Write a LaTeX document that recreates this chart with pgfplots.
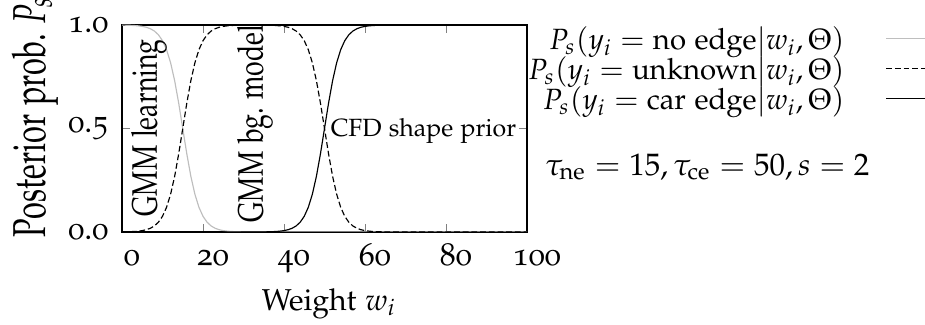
\documentclass[border=0pt]{standalone}
\usepackage[T1]{fontenc}
\usepackage[osf]{mathpazo}
\usepackage{amsmath}
\usepackage{pgfplots}
\usepackage{pgfplotstable}
\pgfplotsset{compat=1.18}

% Posterior probabilities of the three edge classes over the weight w_i
% (tau_ne = 15, tau_ce = 50, s = 2)
\pgfplotstableread{
w   ne       unk      ce
0   0.99945  0.00055  0
1   0.99909  0.00091  0
2   0.99850  0.00150  0
3   0.99753  0.00247  0
4   0.99593  0.00407  0
5   0.99331  0.00669  0
6   0.98901  0.01099  0
7   0.98201  0.01799  0
8   0.97069  0.02931  0
9   0.95257  0.04743  0
10  0.92414  0.07586  0
11  0.88080  0.11920  0
12  0.81757  0.18243  0
13  0.73106  0.26894  0
14  0.62246  0.37754  0
15  0.50000  0.50000  0
16  0.37754  0.62246  0
17  0.26894  0.73106  0
18  0.18243  0.81757  0
19  0.11920  0.88080  0
20  0.07586  0.92414  0
21  0.04743  0.95257  0
22  0.02931  0.97069  0
23  0.01799  0.98201  0
24  0.01099  0.98901  0
25  0.00669  0.99331  0
26  0.00407  0.99593  0
27  0.00247  0.99753  0
28  0.00150  0.99850  0
29  0.00091  0.99909  0
30  0.00055  0.99945  0
31  0.00034  0.99966  0
32  0.00020  0.99980  0
33  0.00012  0.99988  0
34  0.00007  0.99993  0
35  0.00005  0.99940  0.00055
36  0.00003  0.99906  0.00091
37  0.00002  0.99848  0.00150
38  0.00001  0.99752  0.00247
39  0        0.99593  0.00407
40  0        0.99331  0.00669
41  0        0.98901  0.01099
42  0        0.98201  0.01799
43  0        0.97069  0.02931
44  0        0.95257  0.04743
45  0        0.92414  0.07586
46  0        0.88080  0.11920
47  0        0.81757  0.18243
48  0        0.73106  0.26894
49  0        0.62246  0.37754
50  0        0.50000  0.50000
51  0        0.37754  0.62246
52  0        0.26894  0.73106
53  0        0.18243  0.81757
54  0        0.11920  0.88080
55  0        0.07586  0.92414
56  0        0.04743  0.95257
57  0        0.02931  0.97069
58  0        0.01799  0.98201
59  0        0.01099  0.98901
60  0        0.00669  0.99331
61  0        0.00407  0.99593
62  0        0.00247  0.99753
63  0        0.00150  0.99850
64  0        0.00091  0.99909
65  0        0.00055  0.99945
66  0        0.00034  0.99966
67  0        0.00020  0.99980
68  0        0.00012  0.99988
69  0        0.00007  0.99993
70  0        0.00005  0.99995
80  0        0        1
90  0        0        1
100 0        0        1
}\posterior

\definecolor{noedge}{RGB}{190,190,190}

\begin{document}
\begin{tikzpicture}
\begin{axis}[
  at={(0pt,0pt)}, anchor=south west,
  scale only axis,
  width=139.66pt, height=71.38pt,
  xmin=0, xmax=100, ymin=0, ymax=1,
  xtick={0,20,40,60,80,100},
  ytick={0,0.5,1},
  major tick length=2.8pt,
  clip mode=individual,
  /pgf/number format/assume math mode=true,
  tick label style={font=\fontsize{11}{13}\selectfont},
  yticklabel style={xshift=-1.2pt,
    /pgf/number format/fixed, /pgf/number format/fixed zerofill,
    /pgf/number format/precision=1},
  xticklabel style={anchor=base, yshift=-11.7pt, xshift=3.4pt},
  xlabel={Weight $w_i$},
  ylabel={Posterior prob.\ $P_s$},
  every axis x label/.style={at={(axis description cs:0.511,-0.377)}, anchor=base,
    font=\fontsize{10.4}{12}\selectfont},
  every axis y label/.style={at={(axis description cs:-0.190,-0.077)}, anchor=base west,
    rotate=90, yscale=1.5, font=\fontsize{10.6}{12}\selectfont},
  legend plot pos=right,
  legend cell align=right,
  legend image code/.code={\draw[#1] (0pt,1.7pt) -- (17pt,1.7pt);},
  legend style={at={(axis description cs:2.010,0.983)}, anchor=north east,
    draw=none, fill=none, inner sep=0pt, outer sep=0pt,
    row sep=0pt, column sep=14.2pt, font=\fontsize{10.1}{12}\selectfont,
    nodes={inner sep=0pt, outer sep=0pt, text height=7.4pt, text depth=2.94pt}},
  dashstyle/.style={dash pattern=on 2pt off 1pt},
]
\addplot[noedge, line width=0.4pt] table[x=w, y=ne] {\posterior};
\addlegendentry{$P_s(y_i = \text{no edge}|w_i, \Theta)$}
\addplot[black, line width=0.4pt, dashstyle] table[x=w, y=unk] {\posterior};
\addlegendentry{$P_s(y_i = \text{unknown}|w_i, \Theta)$}
\addplot[black, line width=0.4pt] table[x=w, y=ce] {\posterior};
\addlegendentry{$P_s(y_i = \text{car edge}|w_i, \Theta)$}

\node[rotate=90, yscale=1.33, anchor=base west, inner sep=0pt,
  font=\fontsize{9.2}{11}\selectfont] at (axis cs:8.64,0.0725) {GMM learning};
\node[rotate=90, yscale=1.33, anchor=base west, inner sep=0pt,
  font=\fontsize{9.2}{11}\selectfont] at (axis cs:34.8,0.0435) {GMM bg.\ model};
\node[anchor=base west, inner sep=0pt, font=\fontsize{8.6}{10}\selectfont]
  at (axis cs:51.4,0.46) {CFD shape prior};
\node[anchor=base east, inner sep=0pt, font=\fontsize{10.7}{13}\selectfont]
  at (axis description cs:1.847,0.275)
  {$\tau_{\mathrm{ne}} = 15, \tau_{\mathrm{ce}} = 50, s = 2$};
\end{axis}
\pgfresetboundingbox
\path[use as bounding box] (-42.07pt,-32.07pt) rectangle (276.9pt,80.0pt);
\end{tikzpicture}
\end{document}
